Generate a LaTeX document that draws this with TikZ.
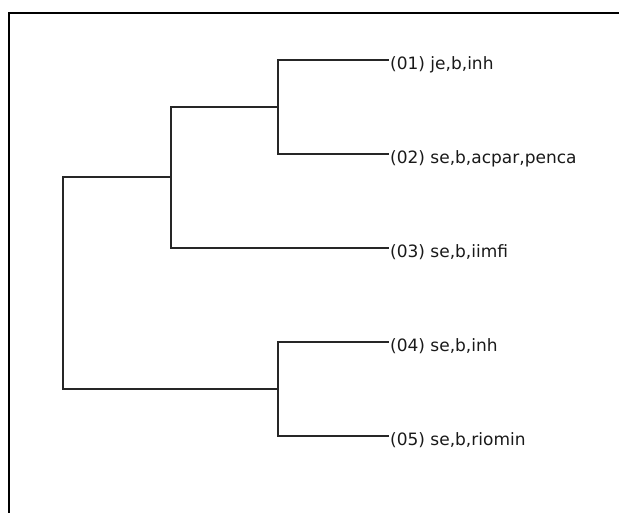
\documentclass[tikz,border=0pt]{standalone}
\usepackage{fontspec}
\setmainfont{DejaVu Sans}
\begin{document}
\begin{tikzpicture}[x=1pt,y=-1pt,
  branch/.style={line width=1.1pt, draw=black!85, line cap=rect},
  leaf/.style={anchor=base west, inner sep=0pt, font=\fontsize{17}{20}\selectfont, text=black!90},
  frame/.style={line width=2pt, draw=black}]
\useasboundingbox (0,0) rectangle (619,513);
\draw[frame] (9,513) -- (9,13) -- (619,13);
% leaf ends
\coordinate (l1) at (388,60);
\coordinate (l2) at (388,154);
\coordinate (l3) at (388,248);
\coordinate (l4) at (388,342);
\coordinate (l5) at (388,436);
% labels
\node[leaf] (t1) at (390,69.5) {(01) je,b,inh};
\node[leaf] (t2) at (390,163.5) {(02) se,b,acpar,penca};
\node[leaf] (t3) at (390,257.5) {(03) se,b,iimfi};
\node[leaf] (t4) at (390,351.5) {(04) se,b,inh};
\node[leaf] (t5) at (390,445.5) {(05) se,b,riomin};
% internal nodes
\coordinate (n12) at (278,107);
\coordinate (n123) at (171,177);
\coordinate (n45) at (278,389);
\coordinate (root) at (63,283);
\draw[branch] (l1) -| (n12) |- (l2);
\draw[branch] (n12) -| (n123) |- (l3);
\draw[branch] (l4) -| (n45) |- (l5);
\draw[branch] (n123) -| (root) |- (n45);
\end{tikzpicture}
\end{document}
